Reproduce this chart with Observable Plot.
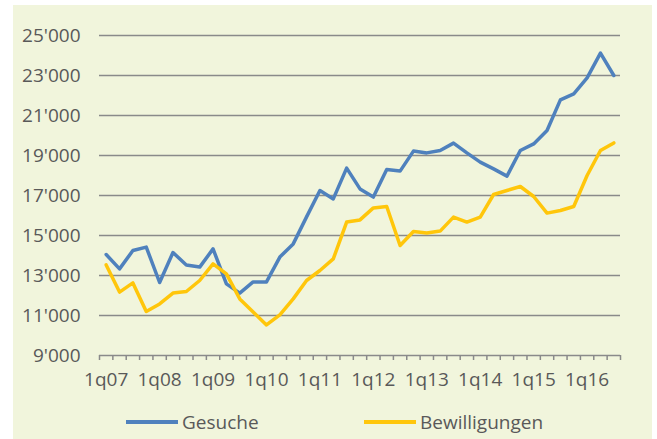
<!DOCTYPE html>
<html>
<head>
<meta charset="utf-8">
<script src="https://cdn.jsdelivr.net/npm/d3@7"></script>
<script src="https://cdn.jsdelivr.net/npm/@observablehq/plot@0.6"></script>
<style>
  html, body { margin: 0; padding: 0; background: #ffffff; }
  #wrap { position: relative; width: 657px; height: 439px; overflow: hidden; font-family: "Open Sans", sans-serif; color: #595959; }
  #panel { position: absolute; left: 13px; top: 5px; width: 639px; height: 434px; background: #F1F5DC; }
  #chart { position: absolute; left: 0; top: 0; }
  .leg { position: absolute; top: 409px; font-size: 19px; line-height: 26px; display: flex; align-items: center; }
  .leg span.sw { display: inline-block; width: 52px; height: 4px; margin-right: 4px; }
</style>
</head>
<body>
<div id="wrap">
  <div id="panel"></div>
  <div id="chart"></div>
  <div class="leg" style="left:126px"><span class="sw" style="background:#4F81BD"></span>Gesuche</div>
  <div class="leg" style="left:364px"><span class="sw" style="background:#FFC60B"></span>Bewilligungen</div>
</div>
<script>
const quarters = [
  "1q07","2q07","3q07","4q07","1q08","2q08","3q08","4q08","1q09","2q09","3q09","4q09",
  "1q10","2q10","3q10","4q10","1q11","2q11","3q11","4q11","1q12","2q12","3q12","4q12",
  "1q13","2q13","3q13","4q13","1q14","2q14","3q14","4q14","1q15","2q15","3q15","4q15",
  "1q16","2q16","3q16"
];
const gesuche = [
  14050, 13330, 14250, 14420, 12650, 14150, 13520, 13420, 14330, 12580,
  12120, 12680, 12680, 13920, 14580, 15930, 17250, 16830, 18370, 17330,
  16920, 18300, 18220, 19220, 19130, 19250, 19620, 19130, 18670, 18330,
  17970, 19250, 19580, 20250, 21780, 22080, 22880, 24120, 23000
];
const bewilligungen = [
  13530, 12170, 12630, 11200, 11580, 12120, 12200, 12750, 13580, 13080,
  11830, 11170, 10530, 11030, 11830, 12750, 13250, 13830, 15670, 15780,
  16380, 16450, 14500, 15200, 15120, 15220, 15920, 15670, 15920, 17050,
  17250, 17450, 16950, 16120, 16250, 16450, 18000, 19250, 19630
];
const yTicks = [9000, 11000, 13000, 15000, 17000, 19000, 21000, 23000, 25000];
const xLabelIdx = quarters.map((q, i) => i).filter(i => quarters[i].startsWith("1q"));
const boundaries = d3.range(quarters.length + 1).map(i => i - 0.5);
const fmt = v => d3.format(",")(v).replace(/,/g, "'");

const chart = Plot.plot({
  width: 657,
  height: 395,
  marginLeft: 99,
  marginRight: 37,
  marginTop: 35,
  marginBottom: 40,
  style: { background: "transparent", fontFamily: "Open Sans, sans-serif", fontSize: "19px", color: "#595959" },
  x: { type: "linear", domain: [-0.5, quarters.length - 0.5] },
  y: { domain: [9000, 25000] },
  marks: [
    Plot.gridY(yTicks.slice(1), { stroke: "#8a8a8a", strokeOpacity: 1, strokeWidth: 1.5 }),
    Plot.ruleY([9000], { stroke: "#8a8a8a", strokeWidth: 1.5 }),
    Plot.axisX(boundaries, { tickSize: 5, tickFormat: () => "", stroke: "#8a8a8a", strokeWidth: 1.5, label: null }),
    Plot.axisX(xLabelIdx, { tickSize: 0, tickPadding: 17, tickFormat: i => quarters[i], fill: "#595959", label: null }),
    Plot.axisY(yTicks, { tickSize: 0, tickPadding: 19, tickFormat: fmt, fill: "#595959", label: null }),
    Plot.line(gesuche, { x: (d, i) => i, y: d => d, stroke: "#4F81BD", strokeWidth: 3.5 }),
    Plot.line(bewilligungen, { x: (d, i) => i, y: d => d, stroke: "#FFC60B", strokeWidth: 3.5 })
  ]
});
document.getElementById("chart").appendChild(chart);
</script>
</body>
</html>
